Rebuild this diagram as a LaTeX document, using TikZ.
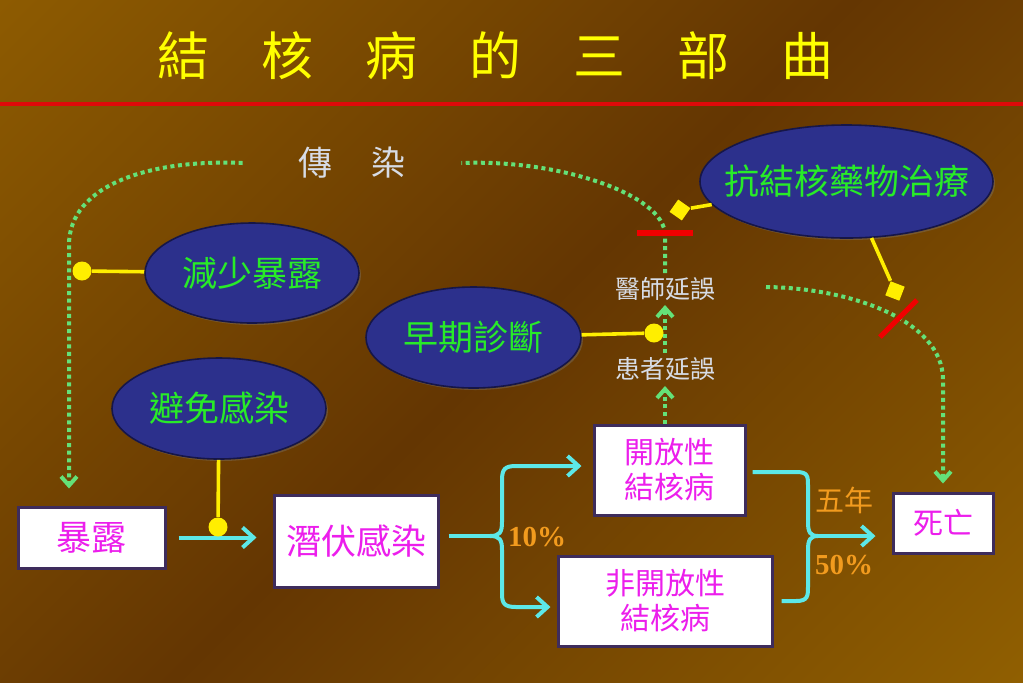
\documentclass[tikz,border=0pt]{standalone}
\usepackage{fontspec}
\newfontfamily\cjk{Noto Sans CJK TC}
\newfontfamily\numfont{Liberation Serif}
\usepackage{tikz}
\usetikzlibrary{arrows.meta, calc, shadows, shapes.geometric}
\definecolor{bgcorner}{RGB}{158,106,0}
\definecolor{bgmiddle}{RGB}{100,54,2}
\definecolor{bgfar}{RGB}{162,112,0}
\definecolor{titleyellow}{RGB}{255,255,0}
\definecolor{rulered}{RGB}{222,10,10}
\definecolor{stagepink}{RGB}{236,30,236}
\definecolor{stageline}{RGB}{62,44,92}
\definecolor{ovalblue}{RGB}{44,48,140}
\definecolor{ovaledge}{RGB}{22,22,72}
\definecolor{ovalgreen}{RGB}{40,235,40}
\definecolor{delaygrey}{RGB}{215,220,230}
\definecolor{flowcyan}{RGB}{92,232,232}
\definecolor{spreadgreen}{RGB}{100,225,120}
\definecolor{blockyellow}{RGB}{255,238,0}
\definecolor{barred}{RGB}{240,0,0}
\definecolor{rateorange}{RGB}{242,155,30}
\pgfdeclarehorizontalshading{backdrop}{100bp}{color(0bp)=(bgcorner); color(50bp)=(bgmiddle); color(100bp)=(bgfar)}
\tikzset{
  title text/.style={
    text=titleyellow,
    font=\cjk\fontsize{26}{30}\selectfont,
    inner sep=0pt
  },
  title rule/.style={
    draw=rulered,
    line width=2pt
  },
  stage/.style={
    rectangle,
    fill=white,
    draw=stageline,
    line width=1.5pt,
    text=stagepink,
    font=\cjk\fontsize{17.5}{21}\selectfont,
    align=center,
    inner sep=0pt,
    drop shadow={opacity=0.45, shadow xshift=1pt, shadow yshift=-1pt}
  },
  small stage/.style={
    font=\cjk\fontsize{15}{17.5}\selectfont
  },
  measure/.style={
    ellipse,
    fill=ovalblue,
    draw=ovaledge,
    line width=0.8pt,
    text=ovalgreen,
    font=\cjk\fontsize{17.5}{21}\selectfont,
    inner sep=0pt,
    drop shadow={opacity=0.35, shadow xshift=1pt, shadow yshift=-1pt}
  },
  spread text/.style={
    text=delaygrey,
    font=\cjk\fontsize{17}{20}\selectfont,
    inner sep=0pt
  },
  delay text/.style={
    text=delaygrey,
    font=\cjk\fontsize{12.5}{15}\selectfont,
    inner sep=2pt
  },
  rate/.style={
    text=rateorange,
    font=\numfont\bfseries\fontsize{14.5}{17}\selectfont,
    inner sep=0pt
  },
  rate word/.style={
    text=rateorange,
    font=\cjk\fontsize{14.5}{17}\selectfont,
    inner sep=0pt
  },
  flow/.style={
    draw=flowcyan,
    line width=2pt,
    -{Straight Barb[length=5.5pt, width=10pt]}
  },
  spread line/.style={
    draw=spreadgreen,
    line width=2pt,
    dash pattern=on 2pt off 1.8pt
  },
  spread arrow/.style={
    spread line,
    -{Straight Barb[length=4.5pt, width=8pt]}
  },
  block/.style={
    draw=blockyellow,
    line width=1.8pt
  },
  block dot/.style={
    circle,
    fill=blockyellow,
    inner sep=0pt,
    minimum size=9.5pt
  },
  block tip/.style={
    rectangle,
    fill=blockyellow,
    inner sep=0pt,
    minimum size=7.5pt
  },
  stop bar/.style={
    draw=barred,
    line width=2.6pt
  }
}

\begin{document}
\begin{tikzpicture}[x=0.5pt, y=-0.5pt]
    % 背景：1單位 = 原圖1像素
    \useasboundingbox (0,0) rectangle (1023,682);
    \shade[shading=backdrop, shading angle=-45] (0,0) rectangle (1023,682);

    % 標題
    \node[title text] (heading) at (495,56) {結\quad 核\quad 病\quad 的\quad 三\quad 部\quad 曲};
    \draw[title rule] (0,104) -- (1023,104);

    % 病程各階段
    \node[stage, minimum width=73.5pt, minimum height=30.5pt] (expose) at (91.5,537.5) {暴露};
    \node[stage, minimum width=82pt, minimum height=46pt] (latent) at (356,541) {潛伏感染};
    \node[stage, small stage, minimum width=75.5pt, minimum height=45pt] (open) at (669.5,470) {開放性\\結核病};
    \node[stage, small stage, minimum width=107pt, minimum height=45pt] (closed) at (665,601) {非開放性\\結核病};
    \node[stage, small stage, minimum width=50pt, minimum height=30pt] (death) at (943,523) {死亡};

    % 介入措施
    \node[measure, minimum width=107pt, minimum height=50pt] (reduce) at (252,273) {\makebox[0pt]{減少暴露}};
    \node[measure, minimum width=107.5pt, minimum height=50.5pt] (early) at (473.5,337.5) {\makebox[0pt]{早期診斷}};
    \node[measure, minimum width=107pt, minimum height=50.5pt] (avoid) at (219,408.5) {\makebox[0pt]{避免感染}};
    \node[measure, minimum width=146.5pt, minimum height=56.5pt] (drug) at (846.5,181.5) {\makebox[0pt]{抗結核藥物治療}};

    % 傳染與延誤
    \node[spread text, minimum width=109pt] (spread) at (352,163) {傳\hspace{20pt}染};
    \node[delay text] (doctor) at (665,289) {醫師延誤};
    \node[delay text] (patient) at (665,369) {患者延誤};

    % 轉折點
    \coordinate (bendL) at (69,245);
    \coordinate (bendT) at (665,235);
    \coordinate (bendR) at (943,380);
    \coordinate (treatFrom) at (766,287);
    \coordinate (split) at (490,536);
    \coordinate (merge) at (818,536);
    \coordinate (cutT) at (665,233);
    \coordinate (cutR) at (898.5,318.5);

    % 傳染鏈 (虛線)
    \draw[spread arrow, shorten >=0.5pt] (open.north -| patient.south) -- (patient.south);
    \draw[spread arrow] (patient.north) -- (doctor.south);
    \draw[spread line] (doctor.north) -- (bendT) .. controls (665,195) and (560,159) .. (spread.east);
    \draw[spread arrow, shorten >=8.5pt] (spread.west) .. controls (150,159) and (69,185) .. (bendL) -- (bendL |- expose.north);
    \draw[spread arrow, shorten >=4pt] (treatFrom) .. controls (850,288) and (943,320) .. (bendR) -- (death.north);

    % 病程 (實線)
    \draw[flow, shorten >=8pt, shorten <=6pt] (expose.east) -- (expose.east -| latent.west);
    \draw[flow, -, shorten <=4.5pt] (latent.east |- split) -- (split);
    \draw[flow, shorten >=5.5pt] (split) .. controls (500,536) and (502,532) .. (502,522) -- (502,480)
      .. controls (502,469) and (505,466) .. (516,466) -- ([yshift=2pt]open.west);
    \draw[flow, shorten >=3pt] (split) .. controls (500,536) and (502,540) .. (502,550) -- (502,594)
      .. controls (502,604) and (505,607) .. (516,607) -- ([yshift=-3pt]closed.west);
    \draw[flow, -, shorten <=3pt] ([yshift=-1pt]open.east) -- (796,472) .. controls (808,472) and (808,476) .. (808,486)
      -- (808,522) .. controls (808,532) and (810,536) .. (merge);
    \draw[flow, -, shorten <=4pt] (closed.east) -- (796,601) .. controls (808,601) and (808,596) .. (808,586)
      -- (808,550) .. controls (808,540) and (810,536) .. (merge);
    \draw[flow, shorten >=8pt] (merge) -- (merge -| death.west);

    % 比例
    \node[rate] (rateTB) at (537,537) {10\%};
    \node[rate word] (years) at (844,500) {五年};
    \node[rate] (rateDeath) at (844,565) {50\%};

    % 阻斷
    \draw[stop bar] ([xshift=-14pt]cutT) -- ([xshift=14pt]cutT);
    \draw[stop bar] ($(cutR)+(-18.5,18.5)$) -- ($(cutR)+(18.5,-18.5)$);

    % 介入連線
    \node[block dot] (dotReduce) at (82,271) {};
    \node[block dot] (dotAvoid) at (218,527) {};
    \node[block dot] (dotEarly) at (654,333) {};
    \node[block tip, rotate=55] (tipDrugA) at (680,210) {};
    \node[block tip, rotate=-21] (tipDrugB) at (895,291) {};
    \draw[block] (reduce) -- (dotReduce);
    \draw[block] (avoid) -- (dotAvoid);
    \draw[block] (early) -- (dotEarly);
    \draw[block] (drug) -- (tipDrugA);
    \draw[block] (drug) -- (tipDrugB);
\end{tikzpicture}
\end{document}
